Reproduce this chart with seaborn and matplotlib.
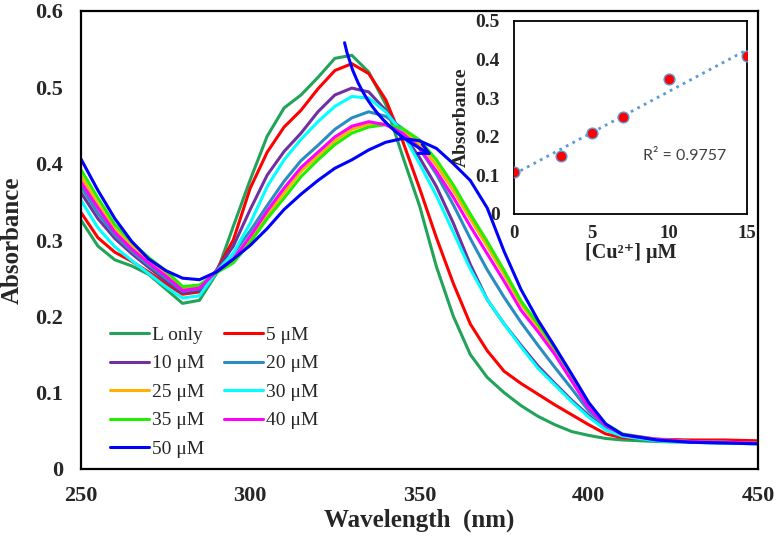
import numpy as np
import pandas as pd
import seaborn as sns
import matplotlib.pyplot as plt
from matplotlib.ticker import MultipleLocator

# wavelength grid (nm)
wavelength = [250, 255, 260, 265, 270, 275, 280, 285, 290, 295, 300, 305, 310, 315, 320,
              325, 330, 335, 340, 345, 350, 355, 360, 365, 370, 375, 380, 385, 390, 395,
              400, 405, 410, 420, 430, 440, 450]

l_only = [0.326, 0.292, 0.274, 0.266, 0.255, 0.236, 0.217, 0.221, 0.256, 0.318, 0.379, 0.436,
          0.473, 0.490, 0.513, 0.538, 0.542, 0.520, 0.478, 0.410, 0.345, 0.265, 0.200, 0.150,
          0.120, 0.100, 0.083, 0.069, 0.058, 0.049, 0.044, 0.040, 0.038, 0.036, 0.035, 0.034, 0.033]
cu_5 = [0.336, 0.303, 0.284, 0.272, 0.258, 0.243, 0.229, 0.232, 0.260, 0.300, 0.368, 0.415,
        0.448, 0.470, 0.498, 0.522, 0.531, 0.518, 0.484, 0.430, 0.368, 0.303, 0.243, 0.190,
        0.155, 0.128, 0.112, 0.098, 0.084, 0.071, 0.058, 0.046, 0.041, 0.039, 0.038, 0.038, 0.037]
cu_10 = [0.362, 0.328, 0.302, 0.282, 0.264, 0.247, 0.231, 0.234, 0.260, 0.292, 0.340, 0.385,
         0.416, 0.440, 0.468, 0.490, 0.499, 0.494, 0.470, 0.440, 0.408, 0.370, 0.322, 0.268,
         0.222, 0.190, 0.162, 0.135, 0.112, 0.090, 0.070, 0.052, 0.043, 0.038, 0.036, 0.035, 0.034]
cu_20 = [0.370, 0.335, 0.306, 0.285, 0.267, 0.250, 0.233, 0.236, 0.260, 0.282, 0.312, 0.345,
         0.377, 0.404, 0.424, 0.445, 0.460, 0.468, 0.462, 0.446, 0.420, 0.386, 0.346, 0.302,
         0.261, 0.225, 0.192, 0.162, 0.133, 0.105, 0.076, 0.055, 0.044, 0.038, 0.036, 0.035, 0.034]
cu_25 = [0.384, 0.347, 0.314, 0.292, 0.273, 0.256, 0.237, 0.240, 0.258, 0.272, 0.300, 0.333,
         0.362, 0.390, 0.410, 0.430, 0.445, 0.452, 0.452, 0.443, 0.426, 0.398, 0.365, 0.328,
         0.292, 0.255, 0.216, 0.186, 0.155, 0.120, 0.083, 0.058, 0.045, 0.039, 0.036, 0.035, 0.034]
cu_30 = [0.352, 0.316, 0.291, 0.273, 0.256, 0.239, 0.224, 0.227, 0.258, 0.283, 0.322, 0.370,
         0.405, 0.432, 0.455, 0.475, 0.488, 0.486, 0.468, 0.440, 0.400, 0.358, 0.310, 0.262,
         0.222, 0.190, 0.160, 0.132, 0.110, 0.088, 0.068, 0.051, 0.043, 0.037, 0.035, 0.034, 0.033]
cu_35 = [0.392, 0.355, 0.320, 0.297, 0.277, 0.260, 0.239, 0.241, 0.257, 0.270, 0.297, 0.328,
         0.355, 0.383, 0.405, 0.425, 0.440, 0.448, 0.451, 0.446, 0.431, 0.405, 0.372, 0.334,
         0.298, 0.260, 0.220, 0.190, 0.158, 0.122, 0.085, 0.059, 0.046, 0.039, 0.036, 0.035, 0.034]
cu_40 = [0.376, 0.342, 0.310, 0.288, 0.270, 0.253, 0.234, 0.237, 0.259, 0.275, 0.305, 0.338,
         0.368, 0.395, 0.415, 0.435, 0.449, 0.455, 0.451, 0.440, 0.420, 0.390, 0.356, 0.318,
         0.282, 0.246, 0.208, 0.180, 0.150, 0.115, 0.080, 0.057, 0.045, 0.039, 0.036, 0.035, 0.034]
cu_50 = [0.406, 0.365, 0.328, 0.298, 0.275, 0.260, 0.250, 0.248, 0.258, 0.275, 0.293, 0.315,
         0.340, 0.360, 0.378, 0.394, 0.405, 0.418, 0.428, 0.433, 0.430, 0.420, 0.400, 0.378,
         0.342, 0.285, 0.235, 0.195, 0.160, 0.124, 0.087, 0.059, 0.045, 0.038, 0.035, 0.034, 0.033]

labels = ["L only", "5 μM", "10 μM", "20 μM", "25 μM", "30 μM", "35 μM", "40 μM", "50 μM"]
colors = ["#21A35A", "#FF0000", "#7030A0", "#2A8CC0", "#FFB000",
          "#00FFFF", "#22EE00", "#FF00FF", "#0000FF"]

# inset: calibration points
cu_conc = [0, 3, 5, 7, 10, 15]
cu_abs = [0.109, 0.149, 0.210, 0.251, 0.350, 0.409]

series = [l_only, cu_5, cu_10, cu_20, cu_25, cu_30, cu_35, cu_40, cu_50]
df = pd.concat([pd.DataFrame({"wl": wavelength, "A": s, "sample": lab})
                for s, lab in zip(series, labels)], ignore_index=True)

sns.set_style("white")
plt.rcParams["font.family"] = ["Liberation Serif", "DejaVu Serif"]

fig = plt.figure(figsize=(7.76, 5.38), dpi=100)
ax = fig.add_axes([81 / 776, 69 / 538, 677 / 776, 458 / 538])

sns.lineplot(data=df, x="wl", y="A", hue="sample", hue_order=labels,
             palette=dict(zip(labels, colors)), lw=2.2, ax=ax, sort=False)

ax.set_xlim(250, 450)
ax.set_ylim(0, 0.6)
ax.xaxis.set_major_locator(MultipleLocator(50))
ax.xaxis.set_minor_locator(MultipleLocator(10))
ax.yaxis.set_major_locator(MultipleLocator(0.1))
ax.yaxis.set_minor_locator(MultipleLocator(0.02))
ax.set_yticks([0, 0.1, 0.2, 0.3, 0.4, 0.5, 0.6])
ax.set_yticklabels(["0", "0.1", "0.2", "0.3", "0.4", "0.5", "0.6"])
ax.tick_params(which="both", direction="in", width=1.5, top=False, right=False)
ax.tick_params(which="major", length=6, labelsize=16)
ax.tick_params(axis="y", which="major", pad=13)
ax.tick_params(axis="x", which="major", pad=12)
ax.tick_params(which="minor", length=4)
for t in ax.get_xticklabels() + ax.get_yticklabels():
    t.set_fontweight("bold")
for sp in ax.spines.values():
    sp.set_linewidth(1.6)
    sp.set_color("black")
ax.set_xlabel("Wavelength  (nm)", fontsize=18, fontweight="bold", labelpad=2)
ax.set_ylabel("Absorbance", fontsize=18, fontweight="bold", labelpad=8)

# legend filled row by row like the original
h, l = ax.get_legend_handles_labels()
order = [0, 2, 4, 6, 8, 1, 3, 5, 7]
ax.legend([h[i] for i in order], [l[i] for i in order], ncol=2, frameon=False,
          loc="upper left", bbox_to_anchor=(0.017, 0.35), fontsize=14,
          handlelength=2.0, labelspacing=0.56, columnspacing=1.0, handletextpad=0.15)

# arrow showing the red shift
ax.annotate("", xy=(354.5, 0.41), xytext=(327.7, 0.562),
            arrowprops=dict(arrowstyle="->", color="#0000FF", lw=2.2,
                            connectionstyle="arc3,rad=0.25", mutation_scale=18))

# inset calibration plot
ins = ax.inset_axes([0.6396, 0.5568, 0.344, 0.4214])
fit = np.polyfit(cu_conc, cu_abs, 1)
xf = np.array([0, 15])
ins.plot(xf, np.polyval(fit, xf), ls=":", color="#5B9BD5", lw=2)
sns.scatterplot(x=cu_conc, y=cu_abs, color="red", edgecolor="#5B9BD5", linewidth=1,
                s=60, ax=ins, zorder=3)
ins.set_xlim(0, 15)
ins.set_ylim(0, 0.5)
ins.set_xticks([0, 5, 10, 15])
ins.xaxis.set_minor_locator(MultipleLocator(1))
ins.set_yticks([0, 0.1, 0.2, 0.3, 0.4, 0.5])
ins.set_yticklabels(["0", "0.1", "0.2", "0.3", "0.4", "0.5"])
ins.yaxis.set_minor_locator(MultipleLocator(0.02))
ins.tick_params(which="both", direction="in", width=1.2, top=False, right=False)
ins.tick_params(which="major", length=5, labelsize=14)
ins.tick_params(axis="y", which="major", pad=10)
ins.tick_params(axis="x", which="major", labelsize=13.5, pad=8)
ins.tick_params(which="minor", length=3)
for t in ins.get_xticklabels() + ins.get_yticklabels():
    t.set_fontweight("bold")
for sp in ins.spines.values():
    sp.set_linewidth(1.3)
    sp.set_color("black")
ins.set_xlabel("[Cu²⁺] μM", fontsize=14.5, fontweight="bold", labelpad=1)
ins.set_ylabel("Absorbance", fontsize=14, fontweight="bold", labelpad=4)
ins.text(8.3, 0.15, "R² = 0.9757", fontsize=11.5, color="#404040",
         family=["Lato", "DejaVu Sans"], va="center")

fig.savefig("out.png", dpi=100)
